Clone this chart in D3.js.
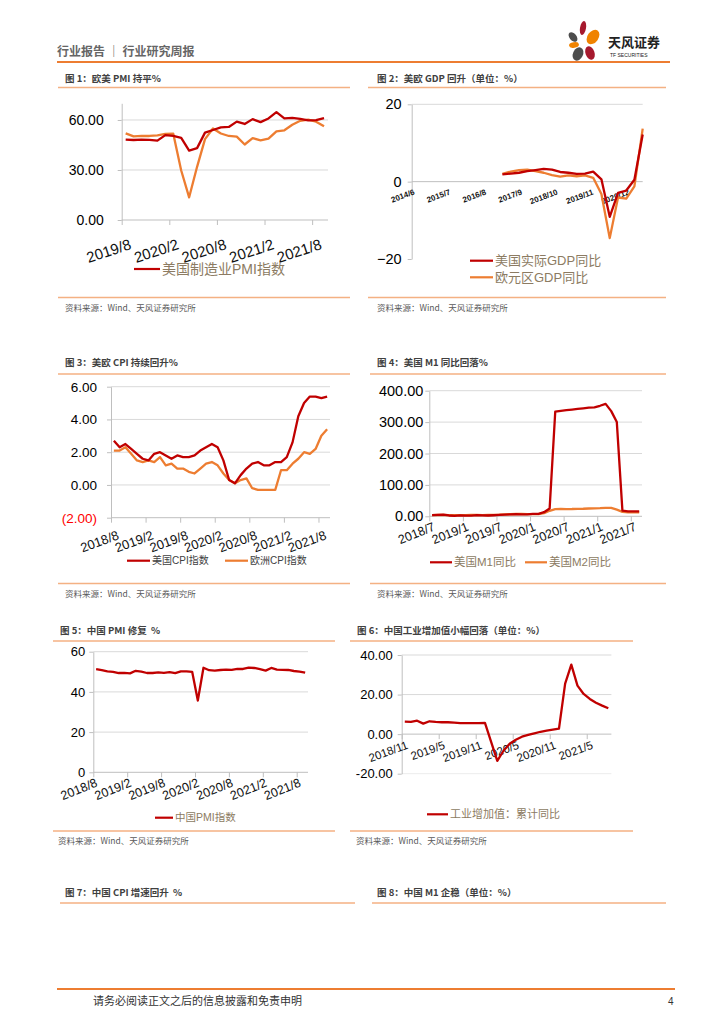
<!DOCTYPE html>
<html>
<head>
<meta charset="utf-8">
<script src="https://cdn.jsdelivr.net/npm/d3@7"></script>
<style>
  body { margin: 0; background: #fff; }
  svg { display: block; }
</style>
</head>
<body>
<svg id="page" width="724" height="1024"></svg>
<script>
const FONT = '"Liberation Sans", Arial, "Noto Sans CJK SC", sans-serif';
const CJK = '"Noto Sans CJK SC", "Liberation Sans", sans-serif';
const red = "#c00000";
const orange = "#ed7d31";
const axisColor = "#bfbfbf";
const legendBrown = "#8c7b62";

function monthRange(from, to) {
  const p = d3.timeParse("%Y/%m");
  return d3.timeMonth.range(p(from), d3.timeMonth.offset(p(to), 1)).map(d3.timeFormat("%Y/%-m"));
}

// 图1 欧美 PMI
const pmiMonths = monthRange("2019/8", "2021/9");
const usIsmPmi = [48.2, 48.0, 48.2, 48.1, 47.6, 50.9, 50.4, 49.3, 41.6, 43.1, 52.4, 54.0, 55.6, 55.8, 59.0, 57.6,
  60.5, 58.7, 60.9, 64.7, 61.0, 61.2, 60.6, 59.8, 59.9, 61.1];
const euroPmi = [52.0, 50.2, 50.4, 50.4, 50.8, 51.6, 51.8, 29.7, 13.6, 31.9, 48.5, 54.9, 51.9, 50.4, 50.0, 45.3,
  49.1, 47.8, 48.8, 53.2, 53.8, 57.1, 59.5, 60.2, 59.0, 56.2];
const pmiTicks = ["2019/8", "2020/2", "2020/8", "2021/2", "2021/8"];

// 图2 美欧 GDP
const gdpQuarters = ["2017/3", "2017/6", "2017/9", "2017/12", "2018/3", "2018/6", "2018/9", "2018/12",
  "2019/3", "2019/6", "2019/9", "2019/12", "2020/3", "2020/6", "2020/9", "2020/12", "2021/3", "2021/6"];
const usGdp = [1.9, 2.1, 2.3, 2.7, 3.0, 3.3, 3.1, 2.5, 2.3, 2.0, 2.1, 2.6, 0.6, -9.1, -2.9, -2.3, 0.5, 12.2];
const euroGdp = [2.0, 2.6, 3.0, 3.1, 2.7, 2.3, 1.7, 1.3, 1.6, 1.4, 1.6, 1.0, -3.2, -14.6, -4.1, -4.4, -1.2, 13.7];
const gdpTicks = ["2014/6", "2015/7", "2016/8", "2017/9", "2018/10", "2019/11", "2020/12"];
const gdpRange = ["2014/6", "2021/6"];

// 图3 美欧 CPI
const cpiMonths = monthRange("2018/8", "2021/9");
const usCpi = [2.7, 2.3, 2.5, 2.2, 1.9, 1.6, 1.5, 1.9, 2.0, 1.8, 1.6, 1.8, 1.7, 1.7, 1.8, 2.1, 2.3, 2.5, 2.3,
  1.5, 0.3, 0.1, 0.6, 1.0, 1.3, 1.4, 1.2, 1.2, 1.4, 1.4, 1.7, 2.6, 4.2, 5.0, 5.4, 5.4, 5.3, 5.4];
const euroCpi = [2.1, 2.1, 2.3, 1.9, 1.5, 1.4, 1.5, 1.4, 1.7, 1.2, 1.3, 1.0, 1.0, 0.8, 0.7, 1.0, 1.3, 1.4, 1.2,
  0.7, 0.3, 0.1, 0.3, 0.4, -0.2, -0.3, -0.3, -0.3, -0.3, 0.9, 0.9, 1.3, 1.6, 2.0, 1.9, 2.2, 3.0, 3.4];
const cpiTicks = ["2018/8", "2019/2", "2019/8", "2020/2", "2020/8", "2021/2", "2021/8"];

// 图4 美国 M1/M2
const moneyMonths = monthRange("2018/7", "2021/8");
const usM1 = [3.9, 4.3, 5.0, 2.6, 1.2, 3.0, 2.0, 2.4, 3.5, 3.0, 2.5, 3.4, 4.3, 5.5, 6.1, 6.9, 6.0, 6.3, 7.5, 7.8,
  13.0, 25.0, 333, 336, 338, 340, 342, 344, 346, 347, 352, 358, 335, 300, 18.0, 16.0, 16.0, 16.0];
const usM2 = [4.0, 4.2, 4.3, 4.0, 3.9, 3.7, 3.8, 4.1, 4.1, 3.8, 4.1, 4.6, 5.1, 6.0, 6.6, 7.3, 7.6, 6.8, 6.8, 6.8,
  10.2, 17.6, 22.9, 23.4, 23.1, 23.2, 23.8, 24.1, 24.8, 25.0, 25.8, 27.1, 26.8, 21.1, 14.2, 12.6, 12.4, 12.4];
const moneyTicks = ["2018/7", "2019/1", "2019/7", "2020/1", "2020/7", "2021/1", "2021/7"];

// 图5 中国 PMI
const cnPmiMonths = monthRange("2018/8", "2021/9");
const cnPmi = [51.3, 50.8, 50.2, 50.0, 49.4, 49.5, 49.2, 50.5, 50.1, 49.4, 49.4, 49.7, 49.5, 49.8, 49.3, 50.2,
  50.2, 50.0, 35.7, 52.0, 50.8, 50.6, 50.9, 51.1, 51.0, 51.5, 51.4, 52.1, 51.9, 51.3, 50.6, 51.9, 51.1, 51.0,
  50.9, 50.4, 50.1, 49.6];
const cnPmiTicks = ["2018/8", "2019/2", "2019/8", "2020/2", "2020/8", "2021/2", "2021/8"];

// 图6 中国工业增加值累计同比
const ipMonths = monthRange("2018/11", "2021/8");
const cnIndustry = [6.3, 6.2, 6.8, 5.3, 6.5, 6.2, 6.0, 6.0, 5.8, 5.6, 5.6, 5.6, 5.6, 5.7, null, -13.5, -8.4,
  -4.9, -2.8, -1.3, -0.4, 0.4, 1.2, 1.8, 2.3, 2.8, 25.5, 35.1, 24.5, 20.3, 17.8, 15.9, 14.4, 13.1];
const ipTicks = ["2018/11", "2019/5", "2019/11", "2020/5", "2020/11", "2021/5"];

const page = d3.select("#page");

function bandScales(cats, left, right) {
  const xb = d3.scaleBand().domain(cats).range([left, right]);
  const xp = d3.scalePoint().domain(cats).range([left, left + xb.step() * (cats.length - 1)]);
  return { pos: c => xb(c) + xb.bandwidth() / 2, ticks: xp };
}

function drawChart(o) {
  const g = page.append("g");
  const y = d3.scaleLinear().domain(o.domain).range([o.bottom, o.top]);

  g.append("g").selectAll("line").data(o.grid).join("line")
    .attr("x1", o.left).attr("x2", o.right)
    .attr("y1", d => y(d)).attr("y2", d => y(d))
    .attr("stroke", d => d < 0 ? "#ececec" : "#d9d9d9");

  const ya = g.append("g").attr("transform", `translate(${o.left},0)`)
    .call(d3.axisLeft(y).tickValues(o.yTicks).tickFormat(o.fmt).tickSize(4).tickPadding(o.yPad).tickSizeOuter(0))
    .attr("font-family", FONT);
  ya.select(".domain").attr("stroke", axisColor);
  ya.selectAll(".tick line").attr("stroke", axisColor);
  ya.selectAll(".tick text").attr("font-size", o.yFont).attr("fill", d => d < 0 && o.negRed ? "#ff0000" : "#000");

  const xa = g.append("g").attr("transform", `translate(0,${y(o.base)})`)
    .call(d3.axisBottom(o.x.ticks).tickValues(o.xTicks).tickFormat(o.xFmt || (d => d))
      .tickSize(o.xTickSize == null ? 5 : o.xTickSize).tickSizeOuter(0))
    .attr("font-family", FONT);
  xa.select(".domain").remove();
  xa.insert("line", ":first-child").attr("x1", o.left).attr("x2", o.right).attr("stroke", axisColor);
  xa.selectAll(".tick line").attr("stroke", axisColor);
  xa.selectAll(".tick text")
    .attr("y", 0).attr("dy", "0.75em").attr("text-anchor", "end")
    .attr("transform", `translate(${o.lblDx},${o.lblDy}) rotate(${o.rot || -20})`)
    .attr("font-size", o.xFont).attr("font-weight", o.xWeight || "normal").attr("fill", "#111");

  const line = d3.line().x(d => o.x.pos(d.c)).y(d => y(d.v));
  o.series.forEach(s => {
    const pts = o.cats.map((c, i) => ({ c, v: s.values[i] })).filter(d => d.v != null);
    g.append("path").datum(pts).attr("d", line)
      .attr("fill", "none").attr("stroke", s.color).attr("stroke-width", 2.3)
      .attr("stroke-linejoin", "round");
  });

  o.legend.forEach(l => {
    g.append("line").attr("x1", l.x).attr("x2", l.x + l.w).attr("y1", l.y).attr("y2", l.y)
      .attr("stroke", l.color).attr("stroke-width", 2.2);
    g.append("text").attr("x", l.x + l.w + 2).attr("y", l.y).attr("dy", "0.35em")
      .attr("font-family", FONT).attr("font-size", l.size).attr("fill", l.fill || legendBrown)
      .text(l.text);
  });
}

// page frame
page.append("text").attr("x", 57).attr("y", 56).attr("font-family", CJK).attr("font-size", 12)
  .attr("font-weight", "bold").attr("fill", "#666").text("行业报告 ｜ 行业研究周报");
page.append("line").attr("x1", 57).attr("x2", 670).attr("y1", 62).attr("y2", 62)
  .attr("stroke", "#ed7d31").attr("stroke-width", 2);

const petals = [
  { cx: 573, cy: 37, rx: 3.5, ry: 5.5, r: -40, c: "#4d4d4d" },
  { cx: 583, cy: 28, rx: 3, ry: 7, r: 10, c: "#a6192e" },
  { cx: 593, cy: 37, rx: 5.5, ry: 8, r: 35, c: "#f08300" },
  { cx: 574, cy: 45, rx: 5, ry: 2.8, r: -10, c: "#f08300" },
  { cx: 578, cy: 54, rx: 5, ry: 7, r: 25, c: "#4d4d4d" },
  { cx: 590, cy: 53, rx: 4.5, ry: 7, r: -20, c: "#a6192e" }
];
page.append("g").selectAll("ellipse").data(petals).join("ellipse")
  .attr("transform", d => `translate(${d.cx},${d.cy}) rotate(${d.r})`)
  .attr("rx", d => d.rx).attr("ry", d => d.ry).attr("fill", d => d.c);
page.append("text").attr("x", 608).attr("y", 47).attr("font-family", CJK).attr("font-size", 13)
  .attr("font-weight", "bold").attr("fill", "#222").text("天风证券");
page.append("text").attr("x", 610).attr("y", 57).attr("font-family", FONT).attr("font-size", 5)
  .attr("fill", "#222").text("TF SECURITIES");

const panels = [
  { t: "图 1：欧美 PMI 持平%", x: 65, ty: 82, l1: 58, l2: 350, uy: 87.5, sy: 297.5, sx: 65 },
  { t: "图 2：美欧 GDP 回升（单位：%）", x: 377, ty: 82, l1: 368, l2: 666, uy: 87.5, sy: 297.5, sx: 377 },
  { t: "图 3：美欧 CPI 持续回升%", x: 65, ty: 366, l1: 58, l2: 350, uy: 374, sy: 583.5, sx: 65 },
  { t: "图 4：美国 M1 同比回落%", x: 377, ty: 366, l1: 370, l2: 666, uy: 374, sy: 583.5, sx: 377 },
  { t: "图 5：中国 PMI 修复  %", x: 60, ty: 634, l1: 53, l2: 335, uy: 641, sy: 831, sx: 58 },
  { t: "图 6：中国工业增加值小幅回落（单位：%）", x: 357, ty: 634, l1: 350, l2: 633, uy: 641, sy: 831, sx: 356 },
  { t: "图 7：中国 CPI 增速回升  %", x: 65, ty: 896, l1: 60, l2: 355, uy: 903 },
  { t: "图 8：中国 M1 企稳（单位：%）", x: 377, ty: 896, l1: 372, l2: 666, uy: 903 }
];
panels.forEach(p => {
  page.append("text").attr("x", p.x).attr("y", p.ty).attr("font-family", CJK).attr("font-size", 9.5)
    .attr("font-weight", "bold").attr("fill", "#404040").attr("xml:space", "preserve").text(p.t);
  page.append("line").attr("x1", p.l1).attr("x2", p.l2).attr("y1", p.uy).attr("y2", p.uy)
    .attr("stroke", "#f4b183").attr("stroke-width", 1.5);
  if (p.sy) {
    page.append("line").attr("x1", p.l1).attr("x2", p.l2).attr("y1", p.sy).attr("y2", p.sy)
      .attr("stroke", "#f4b183").attr("stroke-width", 1.5);
    page.append("text").attr("x", p.sx).attr("y", p.sy + 13).attr("font-family", CJK).attr("font-size", 8.5)
      .attr("fill", "#595959").text("资料来源：Wind、天风证券研究所");
  }
});

page.append("line").attr("x1", 57).attr("x2", 675).attr("y1", 989).attr("y2", 989)
  .attr("stroke", "#ed7d31").attr("stroke-width", 2);
page.append("text").attr("x", 93).attr("y", 1005).attr("font-family", CJK).attr("font-size", 11)
  .attr("fill", "#333").text("请务必阅读正文之后的信息披露和免责申明");
page.append("text").attr("x", 668).attr("y", 1005).attr("font-family", FONT).attr("font-size", 10)
  .attr("fill", "#333").text("4");

const f2 = d => d.toFixed(2);

drawChart({
  cats: pmiMonths, x: bandScales(pmiMonths, 121.7, 328), xTicks: pmiTicks,
  left: 121.7, right: 328, top: 103.3, bottom: 220, domain: [0, 70], base: 0,
  yTicks: [0, 30, 60], grid: [30, 60], fmt: f2, yPad: 14, yFont: 14,
  xFont: 15, lblDx: 6.5, lblDy: 18, rot: -18,
  series: [{ values: euroPmi, color: orange }, { values: usIsmPmi, color: red }],
  legend: [{ x: 134, y: 269, w: 26, color: red, text: "美国制造业PMI指数", size: 14 }]
});

const parseYm = d3.timeParse("%Y/%m");
const gdpTime = d3.scaleTime().domain(gdpRange.map(parseYm)).range([411.7, 642.7]);
drawChart({
  cats: gdpQuarters, x: { pos: c => gdpTime(parseYm(c)), ticks: gdpTime }, xTicks: gdpTicks.map(parseYm),
  xFmt: d3.timeFormat("%Y/%-m"), xTickSize: 0,
  left: 411.7, right: 642.7, top: 104.3, bottom: 259, domain: [-20, 20], base: 0,
  yTicks: [-20, 0, 20], grid: [20], fmt: d3.format("d"), yPad: 6, yFont: 14.5,
  xFont: 8, xWeight: "bold", lblDx: 1, lblDy: 7,
  series: [{ values: euroGdp, color: orange }, { values: usGdp, color: red }],
  legend: [
    { x: 470, y: 260.7, w: 23, color: red, text: "美国实际GDP同比", size: 13 },
    { x: 470, y: 277.3, w: 23, color: orange, text: "欧元区GDP同比", size: 13 }
  ]
});

drawChart({
  cats: cpiMonths, x: bandScales(cpiMonths, 111, 330), xTicks: cpiTicks,
  left: 111, right: 330, top: 386.7, bottom: 517.7, domain: [-2, 6], base: -2,
  yTicks: [-2, 0, 2, 4, 6], grid: [0, 2, 4, 6], negRed: true,
  fmt: d => d < 0 ? `(${Math.abs(d).toFixed(2)})` : d.toFixed(2), yPad: 10, yFont: 13.5,
  xFont: 13, lblDx: 5, lblDy: 12,
  series: [{ values: euroCpi, color: orange }, { values: usCpi, color: red }],
  legend: [
    { x: 127, y: 560.7, w: 23, color: red, text: "美国CPI指数", size: 10, fill: "#404040" },
    { x: 225, y: 560.7, w: 23, color: orange, text: "欧洲CPI指数", size: 10, fill: "#404040" }
  ]
});

drawChart({
  cats: moneyMonths, x: bandScales(moneyMonths, 429.3, 642), xTicks: moneyTicks,
  left: 429.3, right: 642, top: 390.7, bottom: 516.3, domain: [0, 400], base: 0,
  yTicks: [0, 100, 200, 300, 400], grid: [100, 200, 300, 400], fmt: f2, yPad: 2, yFont: 14.5,
  xFont: 12.5, lblDx: 2.5, lblDy: 5, rot: -22,
  series: [{ values: usM2, color: orange }, { values: usM1, color: red }],
  legend: [
    { x: 430, y: 562.3, w: 22, color: red, text: "美国M1同比", size: 11.5 },
    { x: 525, y: 562.3, w: 22, color: orange, text: "美国M2同比", size: 11.5 }
  ]
});

drawChart({
  cats: cnPmiMonths, x: bandScales(cnPmiMonths, 93.3, 308), xTicks: cnPmiTicks,
  left: 93.3, right: 308, top: 651.7, bottom: 772.3, domain: [0, 60], base: 0,
  yTicks: [0, 20, 40, 60], grid: [20, 40, 60], fmt: d3.format("d"), yPad: 4, yFont: 13,
  xFont: 12.5, lblDx: 1, lblDy: 5, rot: -22,
  series: [{ values: cnPmi, color: red }],
  legend: [{ x: 155, y: 817.7, w: 18, color: red, text: "中国PMI指数", size: 10.5 }]
});

drawChart({
  cats: ipMonths, x: bandScales(ipMonths, 401.7, 611.4), xTicks: ipTicks,
  left: 401.7, right: 611.4, top: 655, bottom: 773.7, domain: [-20, 40], base: 0,
  yTicks: [-20, 0, 20, 40], grid: [-20, 20, 40], fmt: f2, yPad: 5, yFont: 13,
  xFont: 11.5, lblDx: 3.5, lblDy: 6,
  series: [{ values: cnIndustry, color: red }],
  legend: [{ x: 427, y: 814.3, w: 21, color: red, text: "工业增加值：累计同比", size: 11 }]
});
</script>
</body>
</html>
